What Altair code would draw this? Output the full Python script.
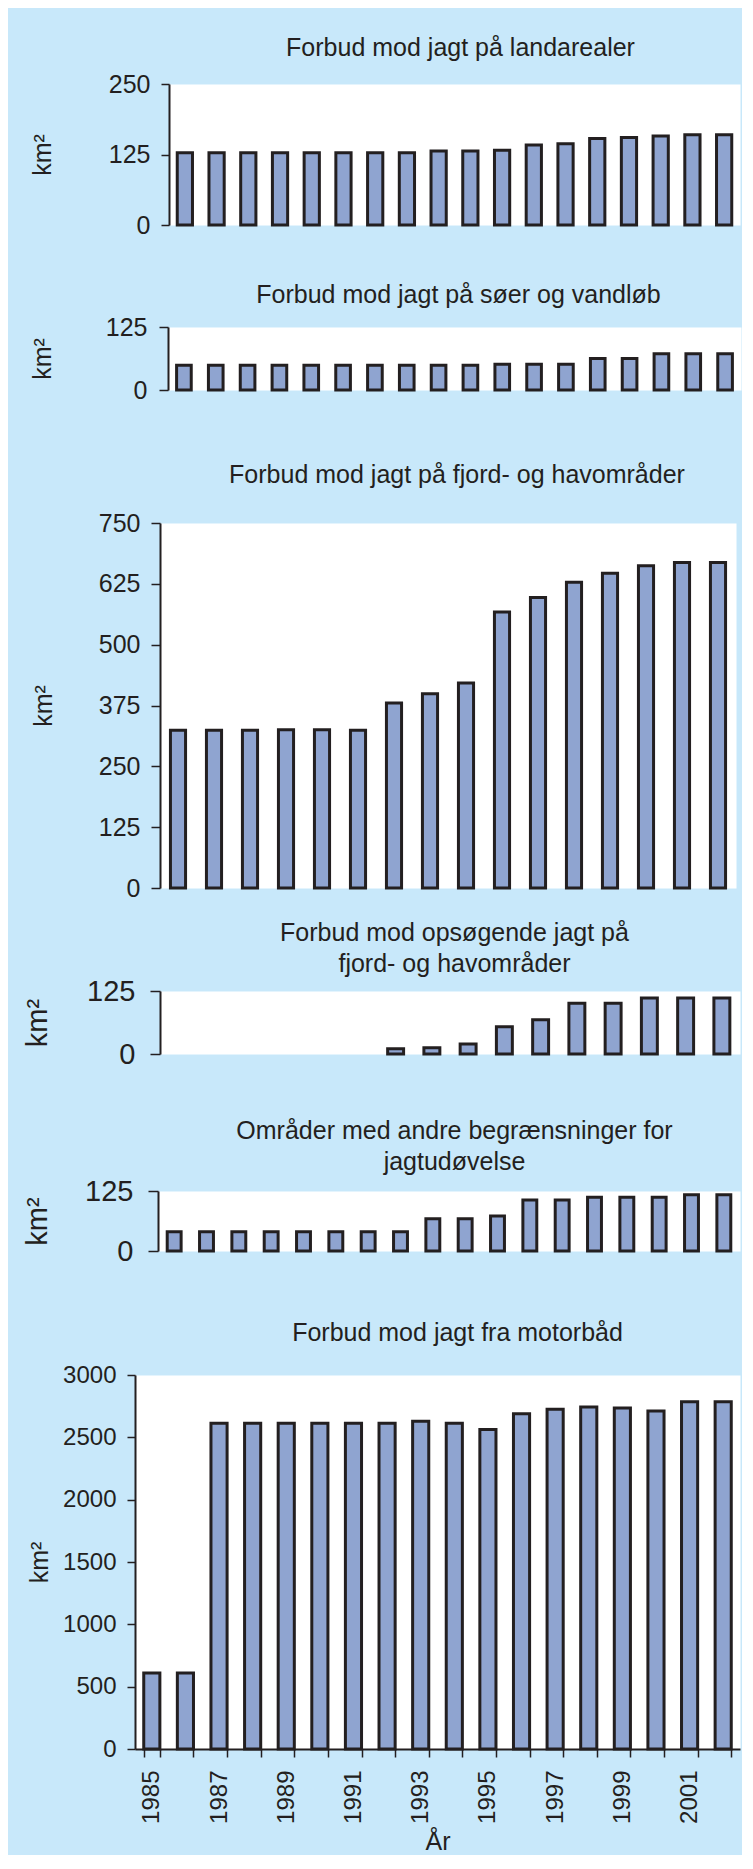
import altair as alt
import pandas as pd

FONT = "Liberation Sans"
INK = "#231F20"
BAR_FILL = "#8FA4D0"
BG = "#C8E8FA"

# ---------------- data ----------------
years18 = list(range(1985, 2003))
years16 = list(range(1987, 2003))

land_km2 = [128, 128, 128, 128, 128, 128, 128, 128, 131, 131, 132.5, 142, 144, 153.5, 155, 158, 160, 160]
lakes_km2 = [49, 49, 49, 49, 49, 49, 49, 49, 49, 49, 51, 51, 51, 62.5, 62.5, 72, 72, 72]
fjord_km2 = [324, 324, 324, 325, 325, 324, 380, 399, 421, 567, 597, 628, 647, 662, 669, 669]
search_km2 = [None, None, None, None, None, None, 10.5, 12.5, 20, 54, 68, 100.5, 100.5, 111, 111, 111]
other_km2 = [40, 40, 40, 40, 40, 40, 40, 40, 67, 67, 73, 106, 106, 112, 112, 112, 117, 117]
motor_km2 = [610, 610, 2613, 2613, 2613, 2613, 2613, 2613, 2630, 2613, 2563, 2689, 2726, 2744, 2735, 2712, 2785, 2785]

titles = [
    "Forbud mod jagt på landarealer",
    "Forbud mod jagt på søer og vandløb",
    "Forbud mod jagt på fjord- og havområder",
    ["Forbud mod opsøgende jagt på", "fjord- og havområder"],
    ["Områder med andre begrænsninger for", "jagtudøvelse"],
    "Forbud mod jagt fra motorbåd",
]


def spacer(w):
    return (
        alt.Chart(pd.DataFrame({"v": [0]}))
        .mark_point(size=0, opacity=0, strokeWidth=0)
        .encode(x=alt.X("v:Q", axis=None, scale=alt.Scale(domain=[0, 1])),
                y=alt.Y("v:Q", axis=None, scale=alt.Scale(domain=[0, 1])))
        .properties(width=w, height=1,
                    view=alt.ViewBackground(fill="transparent", stroke="transparent"))
    )


def make_panel(years, values, title, ymax, yticks, left, width, height,
               title_offset, title_dx, ytitle_x, ytitle_fs, label_fs, tick_size,
               label_pad, pad_inner, ext=None, bottom_axis=False):
    df = pd.DataFrame({"year": years, "km2": values})
    if bottom_axis:
        xaxis = alt.Axis(
            title="År", labelAngle=270,
            labelExpr="datum.value % 2 == 1 ? datum.label : ''",
            labelFont=FONT, labelFontSize=24, labelColor=INK, labelPadding=13,
            tickBand="extent", tickSize=8, tickColor=INK, tickWidth=1.5,
            domainColor=INK, domainWidth=2, grid=False,
            titleFont=FONT, titleFontSize=25, titleFontWeight="normal",
            titleColor=INK, titleY=100, titleBaseline="alphabetic",
        )
    else:
        xaxis = alt.Axis(
            labels=False, ticks=False, domain=False, grid=False,
            title=".", titleOpacity=0, titleFontSize=10,
            titleX=0, titleY=ext, titleAlign="left",
            titleBaseline="top", titleAngle=0,
        )
    yaxis = alt.Axis(
        values=yticks, format="d", title="km²",
        titleX=ytitle_x - left + 3.5, titleY=height / 2, titleAngle=270,
        titleAlign="center", titleBaseline="middle",
        titleFont=FONT, titleFontSize=ytitle_fs, titleFontWeight="normal",
        titleColor=INK,
        labelFont=FONT, labelFontSize=label_fs, labelColor=INK,
        labelPadding=label_pad, tickSize=tick_size, tickColor=INK,
        tickWidth=1.5, domainColor=INK, domainWidth=2, grid=False,
    )
    return (
        alt.Chart(df)
        .mark_bar(fill=BAR_FILL, stroke=INK, strokeWidth=3)
        .encode(
            x=alt.X("year:O", axis=xaxis,
                    scale=alt.Scale(domain=years, paddingInner=pad_inner,
                                    paddingOuter=pad_inner / 2)),
            y=alt.Y("km2:Q", axis=yaxis,
                    scale=alt.Scale(domain=[0, ymax], nice=False, zero=True)),
        )
        .properties(
            width=width, height=height,
            view=alt.ViewBackground(fill="white", stroke="transparent"),
            title=alt.TitleParams(
                text=title, font=FONT, fontSize=25, fontWeight="normal",
                color=INK, anchor="middle", frame="group",
                offset=title_offset, dx=title_dx, lineHeight=31,
            ),
        )
    )


PAGE_X0 = 20  # page x of the row origin (8 px margin + left padding)

rows_spec = [
    dict(years=years18, values=land_km2, title=titles[0], ymax=250, yticks=[0, 125, 250],
         left=171, width=571, height=141, title_offset=11, title_dx=6,
         ytitle_x=41, ytitle_fs=25, label_fs=25, tick_size=8, label_pad=11,
         pad_inner=0.52, ext=35.75),
    dict(years=years18, values=lakes_km2, title=titles[1], ymax=125, yticks=[0, 125],
         left=170, width=573, height=63, title_offset=7.25, title_dx=4,
         ytitle_x=41, ytitle_fs=25, label_fs=25, tick_size=9, label_pad=12,
         pad_inner=0.54, ext=50.75),
    dict(years=years16, values=fjord_km2, title=titles[2], ymax=750,
         yticks=[0, 125, 250, 375, 500, 625, 750],
         left=162, width=576, height=365, title_offset=23.25, title_dx=9,
         ytitle_x=42, ytitle_fs=25, label_fs=25, tick_size=9, label_pad=11,
         pad_inner=0.58, ext=11),
    dict(years=years16, values=search_km2, title=titles[3], ymax=125, yticks=[0, 125],
         left=162, width=580, height=63, title_offset=0, title_dx=4.5,
         ytitle_x=36, ytitle_fs=29, label_fs=29, tick_size=10, label_pad=15,
         pad_inner=0.56, ext=42.75),
    dict(years=years18, values=other_km2, title=titles[4], ymax=125, yticks=[0, 125],
         left=160, width=582, height=60, title_offset=2.25, title_dx=5.5,
         ytitle_x=36, ytitle_fs=29, label_fs=29, tick_size=10, label_pad=15,
         pad_inner=0.57, ext=47.75),
    dict(years=years18, values=motor_km2, title=titles[5], ymax=3000,
         yticks=[0, 500, 1000, 1500, 2000, 2500, 3000],
         left=137, width=605, height=374, title_offset=16.75, title_dx=20,
         ytitle_x=38, ytitle_fs=25, label_fs=24, tick_size=8, label_pad=11,
         pad_inner=0.52, bottom_axis=True),
]

rows = []
for spec in rows_spec:
    km2_left = spec["ytitle_x"] - spec["ytitle_fs"] / 2
    w = max(1, km2_left - PAGE_X0)
    rows.append(alt.hconcat(spacer(w), make_panel(**spec), spacing=0))

chart = (
    alt.vconcat(*rows, spacing=10)
    .properties(background=BG,
                padding={"left": PAGE_X0 - 8, "top": 27, "right": 0, "bottom": 0})
)

chart.save("out.html", embed_options={"renderer": "svg", "actions": False})
